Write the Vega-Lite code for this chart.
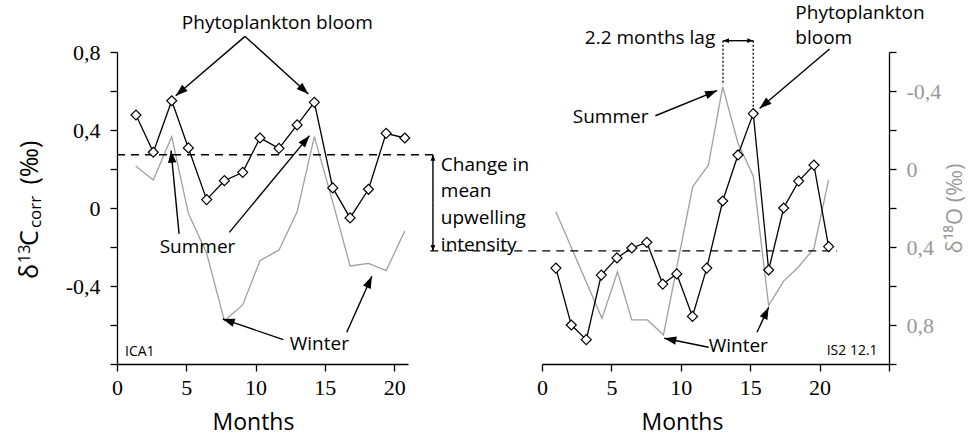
{
  "$schema": "https://vega.github.io/schema/vega-lite/v6.json",
  "background": "white",
  "padding": {"left": 16, "top": 4, "right": 0, "bottom": 0},
  "bounds": "flush",
  "spacing": 134,
  "config": {
    "view": {"stroke": null},
    "axis": {"grid": false, "domainColor": "black", "tickColor": "black", "domainWidth": 1.3, "tickWidth": 1.3, "tickSize": 7,
      "labelFont": "Liberation Serif", "labelFontSize": 22, "labelColor": "black", "labelFlush": false, "labelOverlap": false,
      "titleFont": "Open Sans", "titleFontWeight": "normal", "titleFontSize": 23, "titleColor": "black"},
    "text": {"font": "Open Sans", "fontSize": 19, "color": "black"}
  },
  "datasets": {
    "l13": [
      {"month": 1.37, "d13C": 0.477}, {"month": 2.62, "d13C": 0.286}, {"month": 3.95, "d13C": 0.55}, {"month": 5.15, "d13C": 0.308},
      {"month": 6.47, "d13C": 0.043}, {"month": 7.75, "d13C": 0.14}, {"month": 9.07, "d13C": 0.183}, {"month": 10.32, "d13C": 0.359},
      {"month": 11.69, "d13C": 0.306}, {"month": 13.0, "d13C": 0.426}, {"month": 14.24, "d13C": 0.542}, {"month": 15.57, "d13C": 0.103},
      {"month": 16.82, "d13C": -0.051}, {"month": 18.15, "d13C": 0.096}, {"month": 19.42, "d13C": 0.383}, {"month": 20.77, "d13C": 0.359}
    ],
    "l18": [
      {"month": 1.35, "d18O": -0.015}, {"month": 2.62, "d18O": 0.056}, {"month": 3.95, "d18O": -0.166}, {"month": 5.15, "d18O": 0.227},
      {"month": 6.47, "d18O": 0.432}, {"month": 7.75, "d18O": 0.778}, {"month": 9.07, "d18O": 0.697}, {"month": 10.32, "d18O": 0.47},
      {"month": 11.69, "d18O": 0.415}, {"month": 13.0, "d18O": 0.22}, {"month": 14.24, "d18O": -0.166}, {"month": 15.57, "d18O": 0.17},
      {"month": 16.82, "d18O": 0.497}, {"month": 18.15, "d18O": 0.484}, {"month": 19.42, "d18O": 0.521}, {"month": 20.77, "d18O": 0.318}
    ],
    "r13": [
      {"month": 1.0, "d13C": -0.308}, {"month": 2.11, "d13C": -0.6}, {"month": 3.19, "d13C": -0.675}, {"month": 4.27, "d13C": -0.344},
      {"month": 5.4, "d13C": -0.256}, {"month": 6.47, "d13C": -0.205}, {"month": 7.55, "d13C": -0.176}, {"month": 8.7, "d13C": -0.39},
      {"month": 9.71, "d13C": -0.338}, {"month": 10.84, "d13C": -0.556}, {"month": 11.87, "d13C": -0.308}, {"month": 13.02, "d13C": 0.036},
      {"month": 14.12, "d13C": 0.272}, {"month": 15.22, "d13C": 0.484}, {"month": 16.33, "d13C": -0.318}, {"month": 17.41, "d13C": 0.0},
      {"month": 18.49, "d13C": 0.138}, {"month": 19.59, "d13C": 0.22}, {"month": 20.65, "d13C": -0.198}
    ],
    "r18": [
      {"month": 1.0, "d18O": 0.219}, {"month": 4.32, "d18O": 0.766}, {"month": 5.44, "d18O": 0.527}, {"month": 6.47, "d18O": 0.774},
      {"month": 7.6, "d18O": 0.774}, {"month": 8.75, "d18O": 0.851}, {"month": 10.86, "d18O": 0.09}, {"month": 11.99, "d18O": -0.02},
      {"month": 13.02, "d18O": -0.422}, {"month": 14.12, "d18O": -0.132}, {"month": 15.22, "d18O": 0.036}, {"month": 16.33, "d18O": 0.7},
      {"month": 17.41, "d18O": 0.575}, {"month": 18.49, "d18O": 0.501}, {"month": 19.59, "d18O": 0.407}, {"month": 20.65, "d18O": 0.056}
    ],
    "arrL": [
      {"month": 9.24, "val": 0.88, "month2": 4.24, "val2": 0.576, "kind": "big"},
      {"month": 9.24, "val": 0.88, "month2": 13.81, "val2": 0.585, "kind": "big"},
      {"month": 4.48, "val": -0.133, "month2": 3.9, "val2": 0.294, "kind": "big"},
      {"month": 8.11, "val": -0.125, "month2": 13.89, "val2": 0.371, "kind": "big"},
      {"month": 12.0, "val": -0.675, "month2": 7.63, "val2": -0.569, "kind": "big"},
      {"month": 16.58, "val": -0.637, "month2": 18.39, "val2": -0.35, "kind": "big"},
      {"month": 22.8, "val": 0.03, "month2": 22.8, "val2": 0.273, "kind": "small"},
      {"month": 22.8, "val": 0.03, "month2": 22.8, "val2": -0.22, "kind": "small"}
    ],
    "arrR": [
      {"month": 20.72, "val": 0.815, "month2": 15.68, "val2": 0.511, "kind": "big"},
      {"month": 8.17, "val": 0.473, "month2": 12.61, "val2": 0.602, "kind": "big"},
      {"month": 12.0, "val": -0.714, "month2": 8.81, "val2": -0.668, "kind": "big"},
      {"month": 15.49, "val": -0.637, "month2": 16.33, "val2": -0.509, "kind": "big"},
      {"month": 14.13, "val": 0.858, "month2": 13.04, "val2": 0.858, "kind": "small"},
      {"month": 14.13, "val": 0.858, "month2": 15.22, "val2": 0.858, "kind": "small"}
    ],
    "dashL": [{"month": 0, "month2": 22.8, "val": 0.273}],
    "dashR": [{"month": -8.05, "month2": 21.25, "val": -0.22}],
    "dotR": [{"month": 13.04, "val": 0.858, "val2": 0.631}, {"month": 15.22, "val": 0.858, "val2": 0.484}],
    "txtLc": [
      {"month": 11.57, "val": 0.949, "label": "Phytoplankton bloom"},
      {"month": 5.81, "val": -0.202, "label": "Summer"},
      {"month": 14.6, "val": -0.697, "label": "Winter"}
    ],
    "txtLl": [{"month": 23.37, "val": 0.222, "label": "Change in\nmean\nupwelling\nintensity"}],
    "txtLs": [{"month": 0.58, "val": -0.74, "label": "ICA1"}],
    "ttlBig": [
      {"month": -6.28, "val": -0.364, "label": "δ"},
      {"month": -6.28, "val": -0.195, "label": "C"},
      {"month": -6.28, "val": 0.12, "label": "(‰)"}
    ],
    "ttlSup": [{"month": -6.64, "val": -0.282, "label": "13"}],
    "ttlSub": [{"month": -5.85, "val": -0.103, "label": "corr"}],
    "txtRc": [
      {"month": 4.94, "val": 0.465, "label": "Summer"},
      {"month": 14.14, "val": -0.706, "label": "Winter"}
    ],
    "txtRr": [{"month": 12.48, "val": 0.872, "label": "2.2 months lag"}],
    "txtRl": [{"month": 18.25, "val": 1.0, "label": "Phytoplankton\nbloom"}],
    "txtRs": [{"month": 24.18, "val": -0.735, "label": "IS2 12.1"}]
  },
  "hconcat": [
    {
      "width": 291,
      "height": 312,
      "resolve": {"scale": {"y": "independent"}},
      "encoding": {
        "x": {"field": "month", "type": "quantitative", "scale": {"domain": [0, 21], "nice": false, "zero": false},
          "axis": {"values": [0, 5, 10, 15, 20], "title": "Months", "titleX": 136, "titlePadding": 13, "labelPadding": 6}}
      },
      "layer": [
        {"data": {"name": "l18"}, "mark": {"type": "line", "color": "#a0a0a0", "strokeWidth": 1.3},
          "encoding": {"y": {"field": "d18O", "type": "quantitative", "scale": {"domain": [-0.6, 1.0], "reverse": true, "nice": false, "zero": false}, "axis": null}}},
        {"data": {"name": "dashL"}, "mark": {"type": "rule", "color": "black", "strokeWidth": 1.3, "strokeDash": [8, 6]},
          "encoding": {"x2": {"field": "month2"}, "y": {"field": "val", "type": "quantitative", "scale": {"domain": [-0.8, 0.8], "nice": false, "zero": false}, "axis": null}}},
        {"data": {"name": "l13"}, "mark": {"type": "line", "color": "black", "strokeWidth": 1.3,
            "point": {"shape": "diamond", "filled": true, "fill": "white", "stroke": "black", "strokeWidth": 1.2, "size": 100}},
          "encoding": {"y": {"field": "d13C", "type": "quantitative", "scale": {"domain": [-0.8, 0.8], "nice": false, "zero": false},
            "axis": {"values": [-0.8, -0.6, -0.4, -0.2, 0, 0.2, 0.4, 0.6, 0.8], "title": null, "labelPadding": 10,
              "labelExpr": "indexof([0.8, 0.4, 0, -0.4], datum.value) >= 0 ? (datum.value == 0 ? '0' : replace(replace(format(datum.value, '.1f'), '.', ','), '\u2212', '-')) : ''"}}}},
        {"data": {"name": "arrL"}, "mark": {"type": "rule", "color": "black", "strokeWidth": 1.4},
          "encoding": {"x2": {"field": "month2"}, "y": {"field": "val", "type": "quantitative", "scale": {"domain": [-0.8, 0.8], "nice": false, "zero": false}, "axis": null}, "y2": {"field": "val2"}}},
        {"data": {"name": "arrL"},
          "transform": [{"filter": "datum.kind == 'big'"}, {"calculate": "atan2((datum.month2 - datum.month) * 13.86, (datum.val2 - datum.val) * 195) * 180 / PI", "as": "ang"},
            {"calculate": "datum.month2", "as": "month"}, {"calculate": "datum.val2", "as": "val"}],
          "mark": {"type": "point", "shape": "M0,0L-0.35,1L0.35,1Z", "filled": true, "color": "black", "opacity": 1, "size": 576, "strokeWidth": 0},
          "encoding": {"y": {"field": "val", "type": "quantitative", "scale": {"domain": [-0.8, 0.8], "nice": false, "zero": false}, "axis": null}, "angle": {"field": "ang", "type": "quantitative", "scale": null}}},
        {"data": {"name": "arrL"},
          "transform": [{"filter": "datum.kind == 'small'"}, {"calculate": "atan2((datum.month2 - datum.month) * 13.86, (datum.val2 - datum.val) * 195) * 180 / PI", "as": "ang"},
            {"calculate": "datum.month2", "as": "month"}, {"calculate": "datum.val2", "as": "val"}],
          "mark": {"type": "point", "shape": "M0,0L-0.4,1L0.4,1Z", "filled": true, "color": "black", "opacity": 1, "size": 144, "strokeWidth": 0},
          "encoding": {"y": {"field": "val", "type": "quantitative", "scale": {"domain": [-0.8, 0.8], "nice": false, "zero": false}, "axis": null}, "angle": {"field": "ang", "type": "quantitative", "scale": null}}},
        {"data": {"name": "txtLc"}, "mark": {"type": "text", "align": "center", "baseline": "middle"},
          "encoding": {"y": {"field": "val", "type": "quantitative", "scale": {"domain": [-0.8, 0.8], "nice": false, "zero": false}, "axis": null}, "text": {"field": "label"}}},
        {"data": {"name": "txtLl"}, "mark": {"type": "text", "align": "left", "baseline": "middle", "lineBreak": "\n", "lineHeight": 26.7},
          "encoding": {"y": {"field": "val", "type": "quantitative", "scale": {"domain": [-0.8, 0.8], "nice": false, "zero": false}, "axis": null}, "text": {"field": "label"}}},
        {"data": {"name": "txtLs"}, "mark": {"type": "text", "align": "left", "baseline": "middle", "fontSize": 14},
          "encoding": {"y": {"field": "val", "type": "quantitative", "scale": {"domain": [-0.8, 0.8], "nice": false, "zero": false}, "axis": null}, "text": {"field": "label"}}},
        {"data": {"name": "ttlBig"}, "mark": {"type": "text", "align": "left", "baseline": "middle", "fontSize": 25, "angle": 270},
          "encoding": {"y": {"field": "val", "type": "quantitative", "scale": {"domain": [-0.8, 0.8], "nice": false, "zero": false}, "axis": null}, "text": {"field": "label"}}},
        {"data": {"name": "ttlSup"}, "mark": {"type": "text", "align": "left", "baseline": "middle", "fontSize": 16, "angle": 270},
          "encoding": {"y": {"field": "val", "type": "quantitative", "scale": {"domain": [-0.8, 0.8], "nice": false, "zero": false}, "axis": null}, "text": {"field": "label"}}},
        {"data": {"name": "ttlSub"}, "mark": {"type": "text", "align": "left", "baseline": "middle", "fontSize": 17, "angle": 270},
          "encoding": {"y": {"field": "val", "type": "quantitative", "scale": {"domain": [-0.8, 0.8], "nice": false, "zero": false}, "axis": null}, "text": {"field": "label"}}}
      ]
    },
    {
      "width": 347,
      "height": 312,
      "resolve": {"scale": {"y": "independent"}},
      "encoding": {
        "x": {"field": "month", "type": "quantitative", "scale": {"domain": [0, 25], "nice": false, "zero": false},
          "axis": {"values": [0, 5, 10, 15, 20, 25], "labelExpr": "datum.value > 22 ? '' : datum.label", "title": "Months", "titleX": 140, "titlePadding": 13, "labelPadding": 6}}
      },
      "layer": [
        {"data": {"name": "r18"}, "mark": {"type": "line", "color": "#a0a0a0", "strokeWidth": 1.3},
          "encoding": {"y": {"field": "d18O", "type": "quantitative", "scale": {"domain": [-0.6, 1.0], "reverse": true, "nice": false, "zero": false},
            "axis": {"orient": "right", "values": [-0.6, -0.4, -0.2, 0, 0.2, 0.4, 0.6, 0.8, 1.0], "labelColor": "#999999", "labelPadding": 10,
              "title": "δ¹⁸O (‰)", "titleColor": "#999999", "titleFontSize": 22, "titleAngle": 270, "titleBaseline": "top", "titlePadding": 4,
              "labelExpr": "indexof([-0.4, 0, 0.4, 0.8], datum.value) >= 0 ? (datum.value == 0 ? '0' : replace(replace(format(datum.value, '.1f'), '.', ','), '\u2212', '-')) : ''"}}}},
        {"data": {"name": "dashR"}, "mark": {"type": "rule", "color": "black", "strokeWidth": 1.3, "strokeDash": [8, 6]},
          "encoding": {"x2": {"field": "month2"}, "y": {"field": "val", "type": "quantitative", "scale": {"domain": [-0.8, 0.8], "nice": false, "zero": false}, "axis": null}}},
        {"data": {"name": "dotR"}, "mark": {"type": "rule", "color": "black", "strokeWidth": 1.3, "strokeDash": [2, 2]},
          "encoding": {"y": {"field": "val", "type": "quantitative", "scale": {"domain": [-0.8, 0.8], "nice": false, "zero": false}, "axis": null}, "y2": {"field": "val2"}}},
        {"data": {"name": "r13"}, "mark": {"type": "line", "color": "black", "strokeWidth": 1.3,
            "point": {"shape": "diamond", "filled": true, "fill": "white", "stroke": "black", "strokeWidth": 1.2, "size": 100}},
          "encoding": {"y": {"field": "d13C", "type": "quantitative", "scale": {"domain": [-0.8, 0.8], "nice": false, "zero": false}, "axis": null}}},
        {"data": {"name": "arrR"}, "mark": {"type": "rule", "color": "black", "strokeWidth": 1.4},
          "encoding": {"x2": {"field": "month2"}, "y": {"field": "val", "type": "quantitative", "scale": {"domain": [-0.8, 0.8], "nice": false, "zero": false}, "axis": null}, "y2": {"field": "val2"}}},
        {"data": {"name": "arrR"},
          "transform": [{"filter": "datum.kind == 'big'"}, {"calculate": "atan2((datum.month2 - datum.month) * 13.88, (datum.val2 - datum.val) * 195) * 180 / PI", "as": "ang"},
            {"calculate": "datum.month2", "as": "month"}, {"calculate": "datum.val2", "as": "val"}],
          "mark": {"type": "point", "shape": "M0,0L-0.35,1L0.35,1Z", "filled": true, "color": "black", "opacity": 1, "size": 576, "strokeWidth": 0},
          "encoding": {"y": {"field": "val", "type": "quantitative", "scale": {"domain": [-0.8, 0.8], "nice": false, "zero": false}, "axis": null}, "angle": {"field": "ang", "type": "quantitative", "scale": null}}},
        {"data": {"name": "arrR"},
          "transform": [{"filter": "datum.kind == 'small'"}, {"calculate": "atan2((datum.month2 - datum.month) * 13.88, (datum.val2 - datum.val) * 195) * 180 / PI", "as": "ang"},
            {"calculate": "datum.month2", "as": "month"}, {"calculate": "datum.val2", "as": "val"}],
          "mark": {"type": "point", "shape": "M0,0L-0.4,1L0.4,1Z", "filled": true, "color": "black", "opacity": 1, "size": 144, "strokeWidth": 0},
          "encoding": {"y": {"field": "val", "type": "quantitative", "scale": {"domain": [-0.8, 0.8], "nice": false, "zero": false}, "axis": null}, "angle": {"field": "ang", "type": "quantitative", "scale": null}}},
        {"data": {"name": "txtRc"}, "mark": {"type": "text", "align": "center", "baseline": "middle"},
          "encoding": {"y": {"field": "val", "type": "quantitative", "scale": {"domain": [-0.8, 0.8], "nice": false, "zero": false}, "axis": null}, "text": {"field": "label"}}},
        {"data": {"name": "txtRr"}, "mark": {"type": "text", "align": "right", "baseline": "middle"},
          "encoding": {"y": {"field": "val", "type": "quantitative", "scale": {"domain": [-0.8, 0.8], "nice": false, "zero": false}, "axis": null}, "text": {"field": "label"}}},
        {"data": {"name": "txtRl"}, "mark": {"type": "text", "align": "left", "baseline": "middle", "lineBreak": "\n", "lineHeight": 25},
          "encoding": {"y": {"field": "val", "type": "quantitative", "scale": {"domain": [-0.8, 0.8], "nice": false, "zero": false}, "axis": null}, "text": {"field": "label"}}},
        {"data": {"name": "txtRs"}, "mark": {"type": "text", "align": "right", "baseline": "middle", "fontSize": 14},
          "encoding": {"y": {"field": "val", "type": "quantitative", "scale": {"domain": [-0.8, 0.8], "nice": false, "zero": false}, "axis": null}, "text": {"field": "label"}}}
      ]
    }
  ]
}
